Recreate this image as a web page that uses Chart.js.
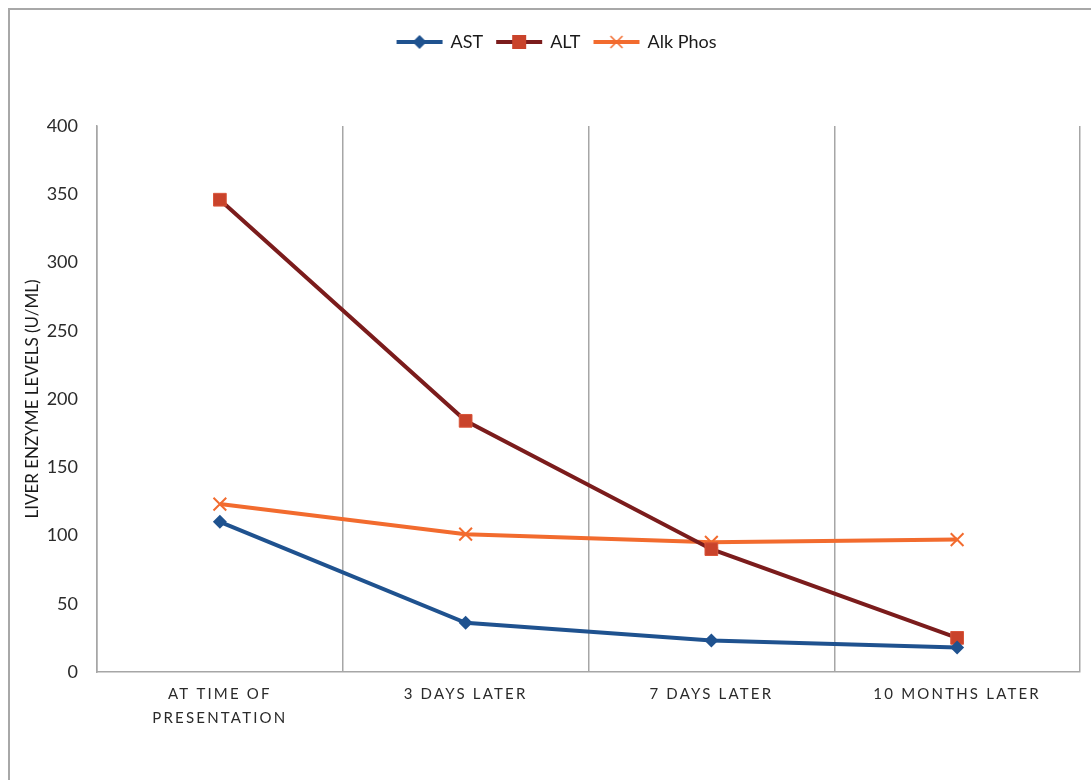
<!DOCTYPE html>
<html>
<head>
<meta charset="utf-8">
<script src="https://cdn.jsdelivr.net/npm/chart.js@4.4.1/dist/chart.umd.min.js"></script>
<style>
    html, body { margin: 0; padding: 0; background: #fff; overflow: hidden; }
    #frame {
        position: absolute; left: 8px; top: 8px; width: 1200px; height: 900px;
        border-left: 2px solid #a8a8a8; border-top: 2px solid #a8a8a8;
    }
    #wrap { position: absolute; left: 0; top: 0; width: 1091px; height: 780px; }
</style>
</head>
<body>
<div id="frame"></div>
<div id="wrap"><canvas id="myChart"></canvas></div>
<script>
// chart data
const categories = [['AT TIME OF', 'PRESENTATION'], '3 DAYS LATER', '7 DAYS LATER', '10 MONTHS LATER'];
const astValues = [110, 36, 23, 18];
const altValues = [346, 184, 90, 25];
const alkPhosValues = [123, 101, 95, 97];
const yTicks = [0, 50, 100, 150, 200, 250, 300, 350, 400];

const FONT = 'Lato, "Open Sans", sans-serif';

// small legend picture: line with the marker in the middle
function legendIcon(lineColor, markerColor, kind) {
    const c = document.createElement('canvas');
    c.width = 48; c.height = 18;
    const g = c.getContext('2d');
    g.strokeStyle = lineColor;
    g.lineWidth = 4;
    g.beginPath(); g.moveTo(1, 9); g.lineTo(47, 9); g.stroke();
    if (kind === 'diamond') {
        g.fillStyle = markerColor;
        g.beginPath(); g.moveTo(24, 2); g.lineTo(31, 9); g.lineTo(24, 16); g.lineTo(17, 9); g.closePath(); g.fill();
    } else if (kind === 'square') {
        g.fillStyle = markerColor;
        g.fillRect(17, 2, 14, 14);
    } else {
        g.strokeStyle = markerColor;
        g.lineWidth = 1.5;
        g.beginPath(); g.moveTo(18, 3); g.lineTo(30, 15); g.moveTo(30, 3); g.lineTo(18, 15); g.stroke();
    }
    return c;
}

const spacingPlugin = {
    id: 'spacing',
    beforeInit(chart) {
        const lg = chart.legend;
        const fit = lg.fit;
        lg.fit = function () {
            fit.call(this);
            this.height += 65;
        };
        const draw = lg.draw;
        lg.draw = function () {
            const c = this.ctx;
            c.save();
            c.translate(17, 0);
            draw.apply(this, arguments);
            c.restore();
        };
    },
    beforeDraw(chart) {
        const xs = chart.scales.x;
        if (xs && !xs._spaced) {
            const orig = xs.drawLabels;
            xs.drawLabels = function (area) {
                const ctx = this.ctx;
                ctx.save();
                ctx.letterSpacing = '2.2px';
                orig.call(this, area);
                ctx.restore();
            };
            xs._spaced = true;
        }
    }
};

const ctx = document.getElementById('myChart').getContext('2d');
new Chart(ctx, {
    type: 'line',
    data: {
        labels: categories,
        datasets: [
            {
                label: 'AST',
                data: astValues,
                borderColor: '#1f528f',
                backgroundColor: '#1f528f',
                borderWidth: 4,
                pointStyle: 'rectRot',
                pointRadius: 7,
                pointBorderWidth: 0,
                pointBackgroundColor: '#1f528f',
                icon: legendIcon('#1f528f', '#1f528f', 'diamond')
            },
            {
                label: 'ALT',
                data: altValues,
                borderColor: '#7b1c1c',
                backgroundColor: '#c9432b',
                borderWidth: 4,
                pointStyle: 'rect',
                pointRadius: 9,
                pointBorderWidth: 1,
                pointBorderColor: '#d9553a',
                pointBackgroundColor: '#c9432b',
                icon: legendIcon('#7b1c1c', '#c9432b', 'square')
            },
            {
                label: 'Alk Phos',
                data: alkPhosValues,
                borderColor: '#f26b2e',
                backgroundColor: '#f26b2e',
                borderWidth: 4,
                pointStyle: 'crossRot',
                pointRadius: 9,
                pointBorderWidth: 2,
                pointBorderColor: '#f26b2e',
                icon: legendIcon('#f26b2e', '#f26b2e', 'cross')
            }
        ]
    },
    options: {
        responsive: true,
        maintainAspectRatio: false,
        animation: false,
        layout: { padding: { top: 19, right: 11, left: 0, bottom: 0 } },
        plugins: {
            tooltip: { enabled: false },
            legend: {
                position: 'top',
                labels: {
                    usePointStyle: true,
                    pointStyleWidth: 44,
                    boxHeight: 18,
                    padding: 14,
                    color: '#1a1a1a',
                    font: { family: FONT, size: 18 },
                    generateLabels(chart) {
                        return chart.data.datasets.map((ds, i) => ({
                            text: ds.label,
                            pointStyle: ds.icon,
                            fillStyle: ds.borderColor,
                            strokeStyle: ds.borderColor,
                            lineWidth: 0,
                            hidden: false,
                            datasetIndex: i,
                            fontColor: '#1a1a1a'
                        }));
                    }
                }
            }
        },
        scales: {
            x: {
                offset: true,
                grid: { offset: true, drawTicks: false, color: '#a6a6a6', lineWidth: 1.5 },
                border: { display: true, color: '#a6a6a6', width: 1.5 },
                ticks: {
                    padding: 10,
                    maxRotation: 0,
                    color: '#2a2a2a',
                    font: { family: FONT, size: 15, lineHeight: 1.6 }
                },
                afterFit(scale) { scale.height = 108; }
            },
            y: {
                min: 0,
                max: 400,
                afterBuildTicks(scale) { scale.ticks = yTicks.map(v => ({ value: v })); },
                grid: { display: false, drawTicks: false },
                border: { display: true, color: '#a6a6a6', width: 1.5 },
                ticks: {
                    padding: 19,
                    color: '#2a2a2a',
                    font: { family: FONT, size: 18 }
                },
                title: {
                    display: true,
                    text: 'LIVER ENZYME LEVELS (U/ML)',
                    color: '#1a1a1a',
                    padding: { top: 22, bottom: 0 },
                    font: { family: FONT, size: 17 }
                },
                afterFit(scale) { scale.width = 97; }
            }
        }
    },
    plugins: [spacingPlugin]
});
</script>
</body>
</html>
